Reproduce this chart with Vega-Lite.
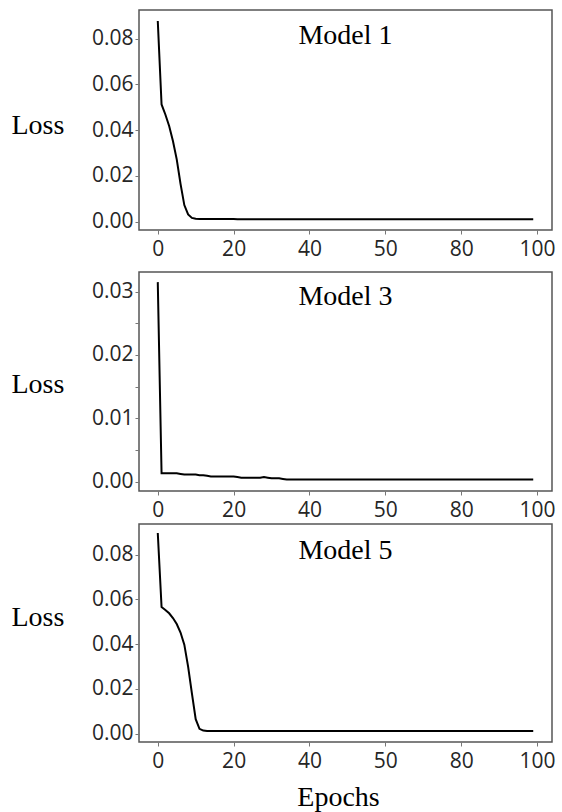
{
  "$schema": "https://vega.github.io/schema/vega-lite/v6.json",
  "padding": {"top": 9, "left": 10, "right": 0, "bottom": 0},
  "background": "white",
  "datasets": {
    "m1": [
      {"epoch":0,"loss":0.0877},{"epoch":1,"loss":0.0512},{"epoch":2,"loss":0.0468},{"epoch":3,"loss":0.0418},{"epoch":4,"loss":0.0352},
      {"epoch":5,"loss":0.0272},{"epoch":6,"loss":0.0165},{"epoch":7,"loss":0.0072},{"epoch":8,"loss":0.0031},{"epoch":9,"loss":0.0016},
      {"epoch":10,"loss":0.0012},{"epoch":11,"loss":0.0011},{"epoch":12,"loss":0.0011},{"epoch":13,"loss":0.0011},{"epoch":14,"loss":0.0011},
      {"epoch":15,"loss":0.0011},{"epoch":16,"loss":0.0011},{"epoch":17,"loss":0.0011},{"epoch":18,"loss":0.0011},{"epoch":19,"loss":0.0011},
      {"epoch":20,"loss":0.0011},{"epoch":21,"loss":0.001},{"epoch":22,"loss":0.001},{"epoch":23,"loss":0.001},{"epoch":24,"loss":0.001},
      {"epoch":25,"loss":0.001},{"epoch":26,"loss":0.001},{"epoch":27,"loss":0.001},{"epoch":28,"loss":0.001},{"epoch":29,"loss":0.001},
      {"epoch":30,"loss":0.001},{"epoch":31,"loss":0.001},{"epoch":32,"loss":0.001},{"epoch":33,"loss":0.001},{"epoch":34,"loss":0.001},
      {"epoch":35,"loss":0.001},{"epoch":36,"loss":0.001},{"epoch":37,"loss":0.001},{"epoch":38,"loss":0.001},{"epoch":39,"loss":0.001},
      {"epoch":40,"loss":0.001},{"epoch":41,"loss":0.001},{"epoch":42,"loss":0.001},{"epoch":43,"loss":0.001},{"epoch":44,"loss":0.001},
      {"epoch":45,"loss":0.001},{"epoch":46,"loss":0.001},{"epoch":47,"loss":0.001},{"epoch":48,"loss":0.001},{"epoch":49,"loss":0.001},
      {"epoch":50,"loss":0.001},{"epoch":51,"loss":0.001},{"epoch":52,"loss":0.001},{"epoch":53,"loss":0.001},{"epoch":54,"loss":0.001},
      {"epoch":55,"loss":0.001},{"epoch":56,"loss":0.001},{"epoch":57,"loss":0.001},{"epoch":58,"loss":0.001},{"epoch":59,"loss":0.001},
      {"epoch":60,"loss":0.001},{"epoch":61,"loss":0.001},{"epoch":62,"loss":0.001},{"epoch":63,"loss":0.001},{"epoch":64,"loss":0.001},
      {"epoch":65,"loss":0.001},{"epoch":66,"loss":0.001},{"epoch":67,"loss":0.001},{"epoch":68,"loss":0.001},{"epoch":69,"loss":0.001},
      {"epoch":70,"loss":0.001},{"epoch":71,"loss":0.001},{"epoch":72,"loss":0.001},{"epoch":73,"loss":0.001},{"epoch":74,"loss":0.001},
      {"epoch":75,"loss":0.001},{"epoch":76,"loss":0.001},{"epoch":77,"loss":0.001},{"epoch":78,"loss":0.001},{"epoch":79,"loss":0.001},
      {"epoch":80,"loss":0.001},{"epoch":81,"loss":0.001},{"epoch":82,"loss":0.001},{"epoch":83,"loss":0.001},{"epoch":84,"loss":0.001},
      {"epoch":85,"loss":0.001},{"epoch":86,"loss":0.001},{"epoch":87,"loss":0.001},{"epoch":88,"loss":0.001},{"epoch":89,"loss":0.001},
      {"epoch":90,"loss":0.001},{"epoch":91,"loss":0.001},{"epoch":92,"loss":0.001},{"epoch":93,"loss":0.001},{"epoch":94,"loss":0.001},
      {"epoch":95,"loss":0.001},{"epoch":96,"loss":0.001},{"epoch":97,"loss":0.001},{"epoch":98,"loss":0.001},{"epoch":99,"loss":0.001}
    ],
    "m3": [
      {"epoch":0,"loss":0.0315},{"epoch":1,"loss":0.0013},{"epoch":2,"loss":0.0013},{"epoch":3,"loss":0.0013},{"epoch":4,"loss":0.0013},
      {"epoch":5,"loss":0.0013},{"epoch":6,"loss":0.0012},{"epoch":7,"loss":0.0011},{"epoch":8,"loss":0.0011},{"epoch":9,"loss":0.0011},
      {"epoch":10,"loss":0.0011},{"epoch":11,"loss":0.001},{"epoch":12,"loss":0.001},{"epoch":13,"loss":0.0009},{"epoch":14,"loss":0.0008},
      {"epoch":15,"loss":0.0008},{"epoch":16,"loss":0.0008},{"epoch":17,"loss":0.0008},{"epoch":18,"loss":0.0008},{"epoch":19,"loss":0.0008},
      {"epoch":20,"loss":0.0008},{"epoch":21,"loss":0.0007},{"epoch":22,"loss":0.0006},{"epoch":23,"loss":0.0006},{"epoch":24,"loss":0.0006},
      {"epoch":25,"loss":0.0006},{"epoch":26,"loss":0.0006},{"epoch":27,"loss":0.0006},{"epoch":28,"loss":0.0007},{"epoch":29,"loss":0.0006},
      {"epoch":30,"loss":0.0005},{"epoch":31,"loss":0.0005},{"epoch":32,"loss":0.0005},{"epoch":33,"loss":0.0004},{"epoch":34,"loss":0.0003},
      {"epoch":35,"loss":0.0003},{"epoch":36,"loss":0.0003},{"epoch":37,"loss":0.0003},{"epoch":38,"loss":0.0003},{"epoch":39,"loss":0.0003},
      {"epoch":40,"loss":0.0003},{"epoch":41,"loss":0.0003},{"epoch":42,"loss":0.0003},{"epoch":43,"loss":0.0003},{"epoch":44,"loss":0.0003},
      {"epoch":45,"loss":0.0003},{"epoch":46,"loss":0.0003},{"epoch":47,"loss":0.0003},{"epoch":48,"loss":0.0003},{"epoch":49,"loss":0.0003},
      {"epoch":50,"loss":0.0003},{"epoch":51,"loss":0.0003},{"epoch":52,"loss":0.0003},{"epoch":53,"loss":0.0003},{"epoch":54,"loss":0.0003},
      {"epoch":55,"loss":0.0003},{"epoch":56,"loss":0.0003},{"epoch":57,"loss":0.0003},{"epoch":58,"loss":0.0003},{"epoch":59,"loss":0.0003},
      {"epoch":60,"loss":0.0003},{"epoch":61,"loss":0.0003},{"epoch":62,"loss":0.0003},{"epoch":63,"loss":0.0003},{"epoch":64,"loss":0.0003},
      {"epoch":65,"loss":0.0003},{"epoch":66,"loss":0.0003},{"epoch":67,"loss":0.0003},{"epoch":68,"loss":0.0003},{"epoch":69,"loss":0.0003},
      {"epoch":70,"loss":0.0003},{"epoch":71,"loss":0.0003},{"epoch":72,"loss":0.0003},{"epoch":73,"loss":0.0003},{"epoch":74,"loss":0.0003},
      {"epoch":75,"loss":0.0003},{"epoch":76,"loss":0.0003},{"epoch":77,"loss":0.0003},{"epoch":78,"loss":0.0003},{"epoch":79,"loss":0.0003},
      {"epoch":80,"loss":0.0003},{"epoch":81,"loss":0.0003},{"epoch":82,"loss":0.0003},{"epoch":83,"loss":0.0003},{"epoch":84,"loss":0.0003},
      {"epoch":85,"loss":0.0003},{"epoch":86,"loss":0.0003},{"epoch":87,"loss":0.0003},{"epoch":88,"loss":0.0003},{"epoch":89,"loss":0.0003},
      {"epoch":90,"loss":0.0003},{"epoch":91,"loss":0.0003},{"epoch":92,"loss":0.0003},{"epoch":93,"loss":0.0003},{"epoch":94,"loss":0.0003},
      {"epoch":95,"loss":0.0003},{"epoch":96,"loss":0.0003},{"epoch":97,"loss":0.0003},{"epoch":98,"loss":0.0003},{"epoch":99,"loss":0.0003}
    ],
    "m5": [
      {"epoch":0,"loss":0.0897},{"epoch":1,"loss":0.0566},{"epoch":2,"loss":0.0553},{"epoch":3,"loss":0.0538},{"epoch":4,"loss":0.0517},
      {"epoch":5,"loss":0.049},{"epoch":6,"loss":0.0452},{"epoch":7,"loss":0.0398},{"epoch":8,"loss":0.03},{"epoch":9,"loss":0.018},
      {"epoch":10,"loss":0.0065},{"epoch":11,"loss":0.0022},{"epoch":12,"loss":0.0014},{"epoch":13,"loss":0.0012},{"epoch":14,"loss":0.0012},
      {"epoch":15,"loss":0.0012},{"epoch":16,"loss":0.0012},{"epoch":17,"loss":0.0012},{"epoch":18,"loss":0.0012},{"epoch":19,"loss":0.0012},
      {"epoch":20,"loss":0.0012},{"epoch":21,"loss":0.0012},{"epoch":22,"loss":0.0012},{"epoch":23,"loss":0.0012},{"epoch":24,"loss":0.0012},
      {"epoch":25,"loss":0.0012},{"epoch":26,"loss":0.0012},{"epoch":27,"loss":0.0012},{"epoch":28,"loss":0.0012},{"epoch":29,"loss":0.0012},
      {"epoch":30,"loss":0.0012},{"epoch":31,"loss":0.0012},{"epoch":32,"loss":0.0012},{"epoch":33,"loss":0.0012},{"epoch":34,"loss":0.0012},
      {"epoch":35,"loss":0.0012},{"epoch":36,"loss":0.0012},{"epoch":37,"loss":0.0012},{"epoch":38,"loss":0.0012},{"epoch":39,"loss":0.0012},
      {"epoch":40,"loss":0.0012},{"epoch":41,"loss":0.0012},{"epoch":42,"loss":0.0012},{"epoch":43,"loss":0.0012},{"epoch":44,"loss":0.0012},
      {"epoch":45,"loss":0.0012},{"epoch":46,"loss":0.0012},{"epoch":47,"loss":0.0012},{"epoch":48,"loss":0.0012},{"epoch":49,"loss":0.0012},
      {"epoch":50,"loss":0.0012},{"epoch":51,"loss":0.0012},{"epoch":52,"loss":0.0012},{"epoch":53,"loss":0.0012},{"epoch":54,"loss":0.0012},
      {"epoch":55,"loss":0.0012},{"epoch":56,"loss":0.0012},{"epoch":57,"loss":0.0012},{"epoch":58,"loss":0.0012},{"epoch":59,"loss":0.0012},
      {"epoch":60,"loss":0.0012},{"epoch":61,"loss":0.0012},{"epoch":62,"loss":0.0012},{"epoch":63,"loss":0.0012},{"epoch":64,"loss":0.0012},
      {"epoch":65,"loss":0.0012},{"epoch":66,"loss":0.0012},{"epoch":67,"loss":0.0012},{"epoch":68,"loss":0.0012},{"epoch":69,"loss":0.0012},
      {"epoch":70,"loss":0.0012},{"epoch":71,"loss":0.0012},{"epoch":72,"loss":0.0012},{"epoch":73,"loss":0.0012},{"epoch":74,"loss":0.0012},
      {"epoch":75,"loss":0.0012},{"epoch":76,"loss":0.0012},{"epoch":77,"loss":0.0012},{"epoch":78,"loss":0.0012},{"epoch":79,"loss":0.0012},
      {"epoch":80,"loss":0.0012},{"epoch":81,"loss":0.0012},{"epoch":82,"loss":0.0012},{"epoch":83,"loss":0.0012},{"epoch":84,"loss":0.0012},
      {"epoch":85,"loss":0.0012},{"epoch":86,"loss":0.0012},{"epoch":87,"loss":0.0012},{"epoch":88,"loss":0.0012},{"epoch":89,"loss":0.0012},
      {"epoch":90,"loss":0.0012},{"epoch":91,"loss":0.0012},{"epoch":92,"loss":0.0012},{"epoch":93,"loss":0.0012},{"epoch":94,"loss":0.0012},
      {"epoch":95,"loss":0.0012},{"epoch":96,"loss":0.0012},{"epoch":97,"loss":0.0012},{"epoch":98,"loss":0.0012},{"epoch":99,"loss":0.0012}
    ]
  },
  "spacing": 11,
  "vconcat": [
    {
      "data": {"name": "m1"},
      "width": 413,
      "height": 220,
      "title": {"text": "Model 1", "offset": -62, "baseline": "alphabetic"},
      "mark": {"type": "line", "color": "black", "strokeWidth": 2},
      "encoding": {
        "x": {"field": "epoch", "type": "quantitative",
              "scale": {"domain": [-4.95, 103.95], "nice": false, "zero": false},
              "axis": {"values": [0, 20, 40, 60, 80, 100], "labelExpr": "datum.value == 60 ? '50' : datum.label", "title": null, "labelPadding": 4}},
        "y": {"field": "loss", "type": "quantitative",
              "scale": {"domain": [-0.0037, 0.0925], "nice": false, "zero": false},
              "axis": {"values": [0, 0.02, 0.04, 0.06, 0.08], "format": ".2f", "title": "Loss", "titleAngle": 0, "titleX": -128, "titleY": 123, "titleAlign": "left", "titleBaseline": "alphabetic", "labelPadding": 2}}
      }
    },
    {
      "spacing": 2,
      "vconcat": [
        {
          "data": {"name": "m3"},
          "width": 413,
          "height": 219,
          "title": {"text": "Model 3", "offset": -61, "baseline": "alphabetic"},
          "mark": {"type": "line", "color": "black", "strokeWidth": 2},
          "encoding": {
            "x": {"field": "epoch", "type": "quantitative",
                  "scale": {"domain": [-4.95, 103.95], "nice": false, "zero": false},
                  "axis": {"values": [0, 20, 40, 60, 80, 100], "labelExpr": "datum.value == 60 ? '50' : datum.label", "title": null, "labelPadding": 4}},
            "y": {"field": "loss", "type": "quantitative",
                  "scale": {"domain": [-0.0015, 0.0331], "nice": false, "zero": false},
                  "axis": {"values": [0, 0.005, 0.01, 0.015, 0.02, 0.025, 0.03], "format": ".2f", "labelExpr": "abs(datum.value * 100 - round(datum.value * 100)) < 0.001 ? datum.label : ''", "title": "Loss", "titleAngle": 0, "titleX": -128, "titleY": 120, "titleAlign": "left", "titleBaseline": "alphabetic", "labelPadding": 2}}
          }
        },
        {
          "data": {"name": "m5"},
          "width": 413,
          "height": 218,
          "title": {"text": "Model 5", "offset": -63, "baseline": "alphabetic"},
          "mark": {"type": "line", "color": "black", "strokeWidth": 2},
          "encoding": {
            "x": {"field": "epoch", "type": "quantitative",
                  "scale": {"domain": [-4.95, 103.95], "nice": false, "zero": false},
                  "axis": {"values": [0, 20, 40, 60, 80, 100], "labelExpr": "datum.value == 60 ? '50' : datum.label", "title": "Epochs", "titleX": 199, "titleY": 63, "titleBaseline": "alphabetic", "labelPadding": 4}},
            "y": {"field": "loss", "type": "quantitative",
                  "scale": {"domain": [-0.0037, 0.0937], "nice": false, "zero": false},
                  "axis": {"values": [0, 0.02, 0.04, 0.06, 0.08], "format": ".2f", "title": "Loss", "titleAngle": 0, "titleX": -128, "titleY": 101, "titleAlign": "left", "titleBaseline": "alphabetic", "labelPadding": 2}}
          }
        }
      ]
    }
  ],
  "config": {
    "view": {"stroke": "#555555", "strokeWidth": 1.5},
    "axis": {"grid": false, "domain": false, "labelFont": "Open Sans", "labelFontSize": 21, "labelColor": "#262626", "tickColor": "#777777", "tickSize": 4, "titleFont": "Liberation Serif", "titleFontSize": 28, "titleFontWeight": "normal", "titleColor": "#000000"},
    "title": {"font": "Liberation Serif", "fontSize": 28, "fontWeight": "normal", "color": "#000000", "frame": "group", "anchor": "middle"}
  }
}
